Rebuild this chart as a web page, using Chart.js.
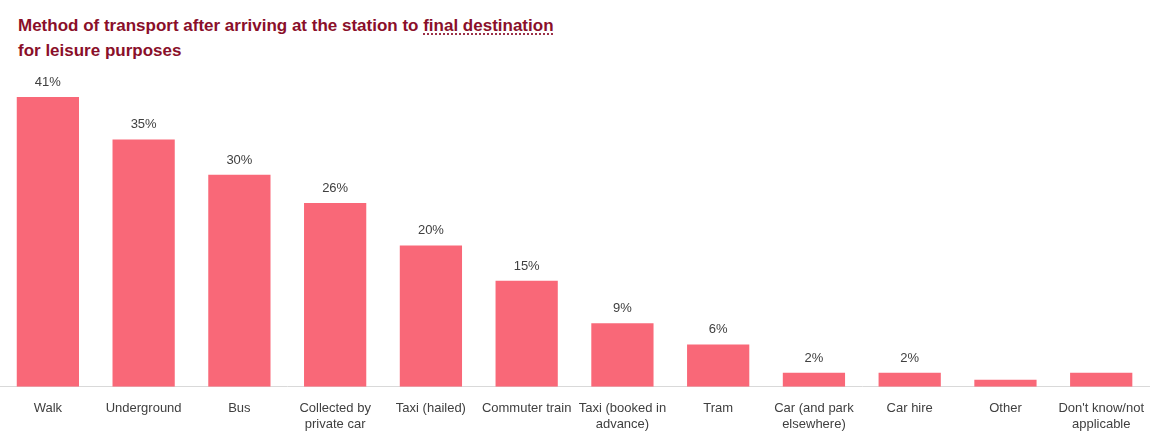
<!DOCTYPE html>
<html>
<head>
<meta charset="utf-8">
<script src="https://cdn.jsdelivr.net/npm/chart.js@4"></script>
<style>
  body { margin: 0; background: #fff; font-family: 'Liberation Sans', Arial, sans-serif; }
  #title { position: absolute; left: 18px; top: 13px; color: #8a0f2a; font-weight: bold; font-size: 17px; line-height: 25px; }
  #title u { text-decoration: underline dotted #8a0f2a; text-underline-offset: 3px; }
  #wrap { position: absolute; left: 0; top: 60px; width: 1150px; height: 378px; }
</style>
</head>
<body>
<div id="title">Method of transport after arriving at the station to <u>final destination</u><br>for leisure purposes</div>
<div id="wrap"><canvas id="c"></canvas></div>
<script>
const categories = [
  'Walk', 'Underground', 'Bus', ['Collected by', 'private car'], 'Taxi (hailed)', 'Commuter train',
  ['Taxi (booked in', 'advance)'], 'Tram', ['Car (and park', 'elsewhere)'], 'Car hire', 'Other', ["Don't know/not", 'applicable']
];
const shares = [41, 35, 30, 26, 20, 15, 9, 6, 2, 2, 1, 2];
const shownLabels = ['41%', '35%', '30%', '26%', '20%', '15%', '9%', '6%', '2%', '2%', '', ''];

const valueLabels = {
  id: 'valueLabels',
  afterDatasetsDraw(chart) {
    const ctx = chart.ctx;
    ctx.save();
    ctx.fillStyle = '#404040';
    ctx.font = "13px 'Liberation Sans', Arial, sans-serif";
    ctx.textAlign = 'center';
    ctx.textBaseline = 'bottom';
    chart.getDatasetMeta(0).data.forEach((bar, i) => {
      if (shownLabels[i]) ctx.fillText(shownLabels[i], bar.x, bar.y - 8);
    });
    ctx.restore();
  }
};

new Chart(document.getElementById('c'), {
  type: 'bar',
  data: {
    labels: categories,
    datasets: [{ data: shares, backgroundColor: '#f96878', categoryPercentage: 1, barPercentage: 0.65 }]
  },
  options: {
    responsive: true,
    maintainAspectRatio: false,
    animation: false,
    layout: { padding: { top: 20, left: 0, right: 0 } },
    plugins: { legend: { display: false }, tooltip: { enabled: false } },
    scales: {
      x: {
        grid: { display: false },
        border: { color: '#d9d9d9' },
        ticks: { color: '#404040', font: { size: 13, family: "'Liberation Sans', Arial, sans-serif" }, maxRotation: 0, autoSkip: false, padding: 6 }
      },
      y: { display: false, min: 0, max: 43.4 }
    }
  },
  plugins: [valueLabels]
});
</script>
</body>
</html>
